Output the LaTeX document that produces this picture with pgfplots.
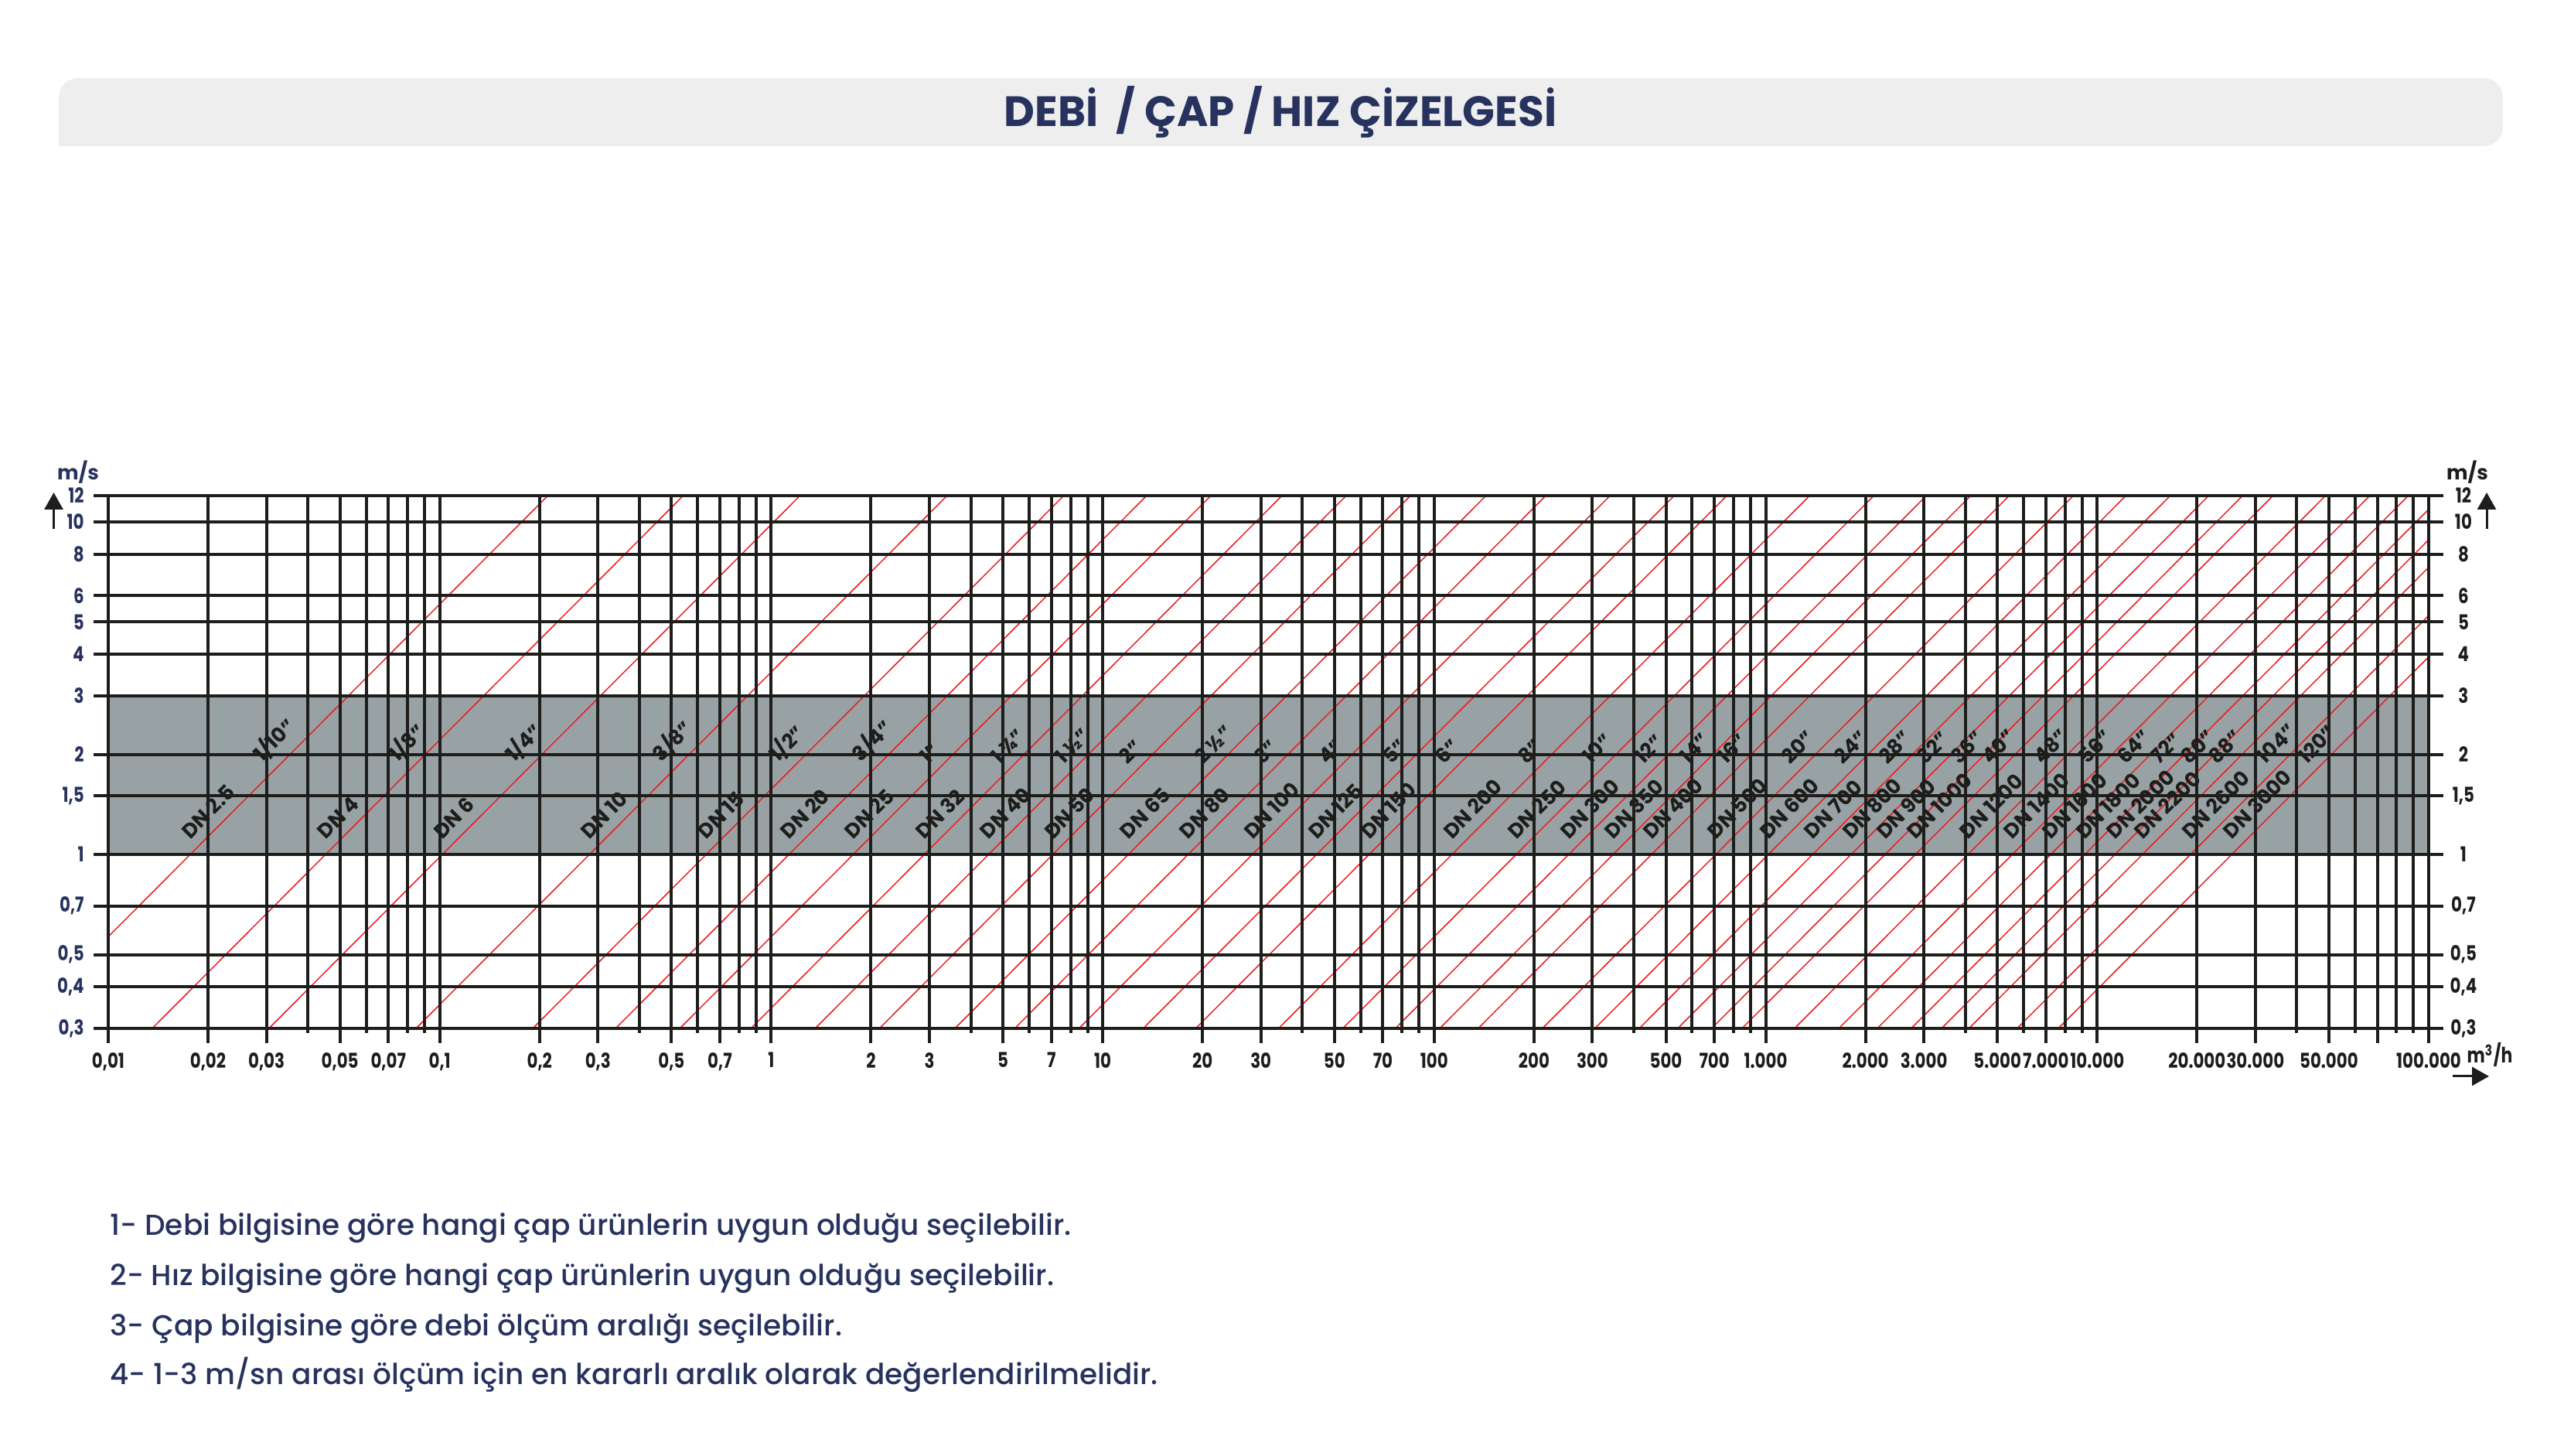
\documentclass[border=0pt]{standalone}
\usepackage{fontspec}
\setmainfont{Poppins}
\newfontfamily\popmed{Poppins Medium}
\newfontfamily\tickfont{Poppins}[FakeStretch=0.8]
\usepackage{pgfplots}
\pgfplotsset{compat=1.18}
\usetikzlibrary{arrows.meta}
\definecolor{navy}{HTML}{27335E}
\definecolor{band}{HTML}{98A2A4}
\definecolor{gridk}{HTML}{1D1D1B}
\definecolor{redl}{HTML}{EC1C24}
\definecolor{barbg}{HTML}{EEEEEE}
\tikzset{lab/.style={rotate=45, anchor=south west, inner sep=0pt, text=gridk,
  font=\bfseries\fontsize{7.5}{8}\selectfont}}
\newcommand\rl[2]{\addplot[redl, line width=0.15mm] coordinates {(#1,0.3) (#2,12)};}
\newcommand\dn[2]{\node[lab] at (axis cs:#1,1.10) {#2};}
\newcommand\inch[2]{\node[lab] at (axis cs:#1,1.846) {#2};}
\begin{document}
\begin{tikzpicture}
\useasboundingbox (0,0) rectangle (331.6mm,188.3mm);
% title bar
\fill[barbg, rounded corners=2.5mm] (7.6mm,169.4mm) rectangle (323.7mm,178.2mm);
\fill[barbg] (7.6mm,169.4mm) rectangle (12mm,173mm);
\node[anchor=base, text=navy, font=\bfseries\fontsize{15.6}{18}\selectfont] at (165.6mm,171.97mm) {DEBİ\ \ / ÇAP / HIZ ÇİZELGESİ};

\begin{axis}[
  at={(14mm,55.3mm)}, anchor=south west,
  scale only axis, width=300.1mm, height=68.9mm,
  xmode=log, ymode=log,
  xmin=0.01, xmax=100000, ymin=0.3, ymax=12,
  ytick={0.3,0.4,0.5,0.7,1,1.5,2,3,4,5,6,8,10,12},
  yticklabels={{0,3},{0,4},{0,5},{0,7},1,{1,5},2,3,4,5,6,8,10,12},
  yminorticks=false,
  tick align=outside,
  major tick length=1.9mm, minor tick length=0.6mm,
  ticklabel style={font=\tickfont\bfseries\fontsize{7.6}{8}\selectfont},
  axis on top,
  xtick={0.01,0.02,0.03,0.05,0.07,0.1,0.2,0.3,0.5,0.7,1,2,3,5,7,10,20,30,50,70,100,200,300,500,700,1000,2000,3000,5000,7000,10000,20000,30000,50000,70000,100000},
  xticklabels={{0,01},{0,02},{0,03},{0,05},{0,07},{0,1},{0,2},{0,3},{0,5},{0,7},1,2,3,5,7,10,20,30,50,70,100,200,300,500,700,1.000,2.000,3.000,5.000,7.000,10.000,20.000,30.000,50.000,{},100.000},
  minor xtick={0.04,0.06,0.08,0.09,0.4,0.6,0.8,0.9,4,6,8,9,40,60,80,90,400,600,800,900,4000,6000,8000,9000,40000,60000,80000,90000},
  xmajorgrids, xminorgrids, ymajorgrids,
  major grid style={gridk, line width=0.4mm},
  minor grid style={gridk, line width=0.4mm},
  axis line style={gridk, line width=0.4mm},
  tick style={gridk, line width=0.4mm},
  xtick pos=left, ytick pos=both, yticklabel pos=left,
  xticklabel style={text=gridk},
  yticklabel style={text=navy},
]
% stable 1-3 m/s band
\addplot[fill=band, draw=none] coordinates {(0.01,1) (100000,1) (100000,3) (0.01,3)} -- cycle;
% DN lines: (Q at 0.3 m/s, Q at 12 m/s)
\rl{0.0053014}{0.21206}
\rl{0.013572}{0.54287}
\rl{0.030536}{1.22145}
\rl{0.084823}{3.3929}
\rl{0.19085}{7.6341}
\rl{0.33929}{13.572}
\rl{0.53014}{21.206}
\rl{0.86859}{34.743}
\rl{1.35717}{54.287}
\rl{2.1206}{84.823}
\rl{3.5838}{143.35}
\rl{5.4287}{217.15}
\rl{8.4823}{339.29}
\rl{13.254}{530.14}
\rl{19.085}{763.41}
\rl{33.929}{1357.2}
\rl{53.014}{2120.6}
\rl{76.341}{3053.6}
\rl{103.91}{4156.3}
\rl{135.72}{5428.6}
\rl{212.06}{8482.3}
\rl{305.36}{12214}
\rl{415.63}{16625}
\rl{542.87}{21715}
\rl{687.07}{27482}
\rl{848.23}{33929}
\rl{1221.5}{48858}
\rl{1662.5}{66501}
\rl{2171.5}{86858}
\rl{2748.3}{109930}
\rl{3392.9}{135716}
\rl{4105.5}{164217}
\rl{5734.0}{229360}
\rl{7634.1}{305361}
% DN labels
\dn{0.017719}{DN 2.5}
\dn{0.04536}{DN 4}
\dn{0.10206}{DN 6}
\dn{0.2835}{DN 10}
\dn{0.63788}{DN 15}
\dn{1.134}{DN 20}
\dn{1.7719}{DN 25}
\dn{2.903}{DN 32}
\dn{4.536}{DN 40}
\dn{7.0875}{DN 50}
\dn{11.978}{DN 65}
\dn{18.144}{DN 80}
\dn{28.35}{DN 100}
\dn{44.297}{DN 125}
\dn{63.788}{DN 150}
\dn{113.4}{DN 200}
\dn{177.19}{DN 250}
\dn{255.15}{DN 300}
\dn{347.29}{DN 350}
\dn{453.6}{DN 400}
\dn{708.75}{DN 500}
\dn{1020.6}{DN 600}
\dn{1389.2}{DN 700}
\dn{1814.4}{DN 800}
\dn{2296.4}{DN 900}
\dn{2835}{DN 1000}
\dn{4082.4}{DN 1200}
\dn{5556.6}{DN 1400}
\dn{7257.6}{DN 1600}
\dn{9185.4}{DN 1800}
\dn{11340}{DN 2000}
\dn{13721}{DN 2200}
\dn{19165}{DN 2600}
\dn{25515}{DN 3000}
% inch labels
\inch{0.02975}{1/10"}
\inch{0.07616}{1/8"}
\inch{0.17136}{1/4"}
\inch{0.476}{3/8"}
\inch{1.071}{1/2"}
\inch{1.904}{3/4"}
\inch{2.975}{1"}
\inch{4.8742}{1 ¼"}
\inch{7.616}{1 ½"}
\inch{11.9}{2"}
\inch{20.111}{2 ½"}
\inch{30.464}{3"}
\inch{47.6}{4"}
\inch{74.375}{5"}
\inch{107.1}{6"}
\inch{190.4}{8"}
\inch{297.5}{10"}
\inch{428.4}{12"}
\inch{583.1}{14"}
\inch{761.6}{16"}
\inch{1190}{20"}
\inch{1713.6}{24"}
\inch{2332.4}{28"}
\inch{3046.4}{32"}
\inch{3855.6}{36"}
\inch{4760}{40"}
\inch{6854.4}{48"}
\inch{9329.6}{56"}
\inch{12186}{64"}
\inch{15422}{72"}
\inch{19040}{80"}
\inch{23038}{88"}
\inch{32178}{104"}
\inch{42840}{120"}
\end{axis}

% right-hand velocity labels
\begin{axis}[
  at={(14mm,55.3mm)}, anchor=south west,
  scale only axis, width=300.1mm, height=68.9mm,
  xmode=log, ymode=log,
  xmin=0.01, xmax=100000, ymin=0.3, ymax=12,
  ytick={0.3,0.4,0.5,0.7,1,1.5,2,3,4,5,6,8,10,12},
  yticklabels={{0,3},{0,4},{0,5},{0,7},1,{1,5},2,3,4,5,6,8,10,12},
  yminorticks=false,
  tick align=outside,
  major tick length=1.9mm,
  ticklabel style={font=\tickfont\bfseries\fontsize{7.6}{8}\selectfont},
  xtick=\empty, axis x line=none,
  axis y line*=right,
  axis line style={draw=none},
  ytick style={draw=none},
  yticklabel style={text=gridk, anchor=center, xshift=2.6mm},
]
\addplot[draw=none] coordinates {(1,1)};
\end{axis}

% axis captions and arrows
\node[text=navy, font=\bfseries\fontsize{7.4}{8}\selectfont] at (10.1mm,127.2mm) {m/s};
\draw[gridk, line width=0.3mm, -{Triangle[width=2.4mm,length=2.2mm]}] (6.95mm,119.9mm) -- (6.95mm,124.6mm);
\node[text=gridk, font=\bfseries\fontsize{7.4}{8}\selectfont] at (319.1mm,127.2mm) {m/s};
\draw[gridk, line width=0.3mm, -{Triangle[width=2.4mm,length=2.2mm]}] (321.6mm,119.9mm) -- (321.6mm,124.6mm);
\node[anchor=base, text=gridk, font=\tickfont\bfseries\fontsize{7.8}{8}\selectfont] at (322.0mm,50.8mm) {m\textsuperscript{3}/h};
\draw[gridk, line width=0.3mm, -{Triangle[width=2.4mm,length=2.2mm]}] (317.2mm,49.1mm) -- (321.9mm,49.1mm);

% notes
\begin{scope}[every node/.style={anchor=base west, text=navy, inner sep=0pt, font=\popmed\fontsize{10.65}{12}\selectfont}]
\node at (14.2mm,28.5mm) {1- Debi bilgisine göre hangi çap ürünlerin uygun olduğu seçilebilir.};
\node at (14.2mm,22.0mm) {2- Hız bilgisine göre hangi çap ürünlerin uygun olduğu seçilebilir.};
\node at (14.2mm,15.5mm) {3- Çap bilgisine göre debi ölçüm aralığı seçilebilir.};
\node at (14.2mm,9.2mm) {4- 1-3 m/sn arası ölçüm için en kararlı aralık olarak değerlendirilmelidir.};
\end{scope}
\end{tikzpicture}
\end{document}
